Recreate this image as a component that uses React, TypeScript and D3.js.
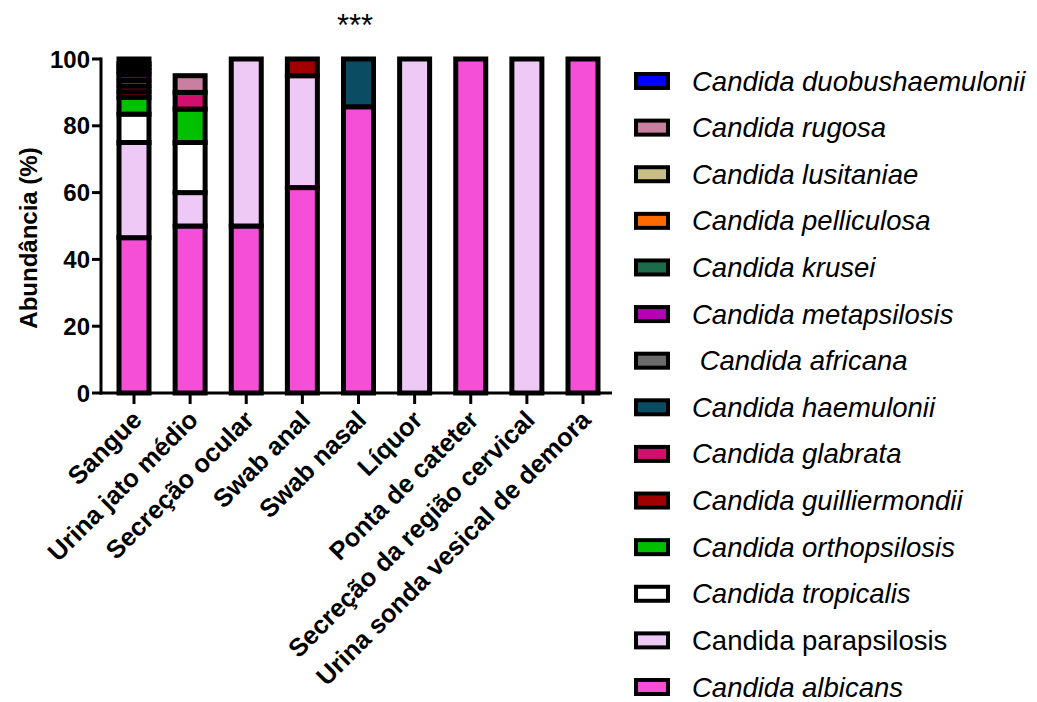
import React from "react";
import * as d3 from "d3";

const categories = [
  "Sangue",
  "Urina jato médio",
  "Secreção ocular",
  "Swab anal",
  "Swab nasal",
  "Líquor",
  "Ponta de cateter",
  "Secreção da região cervical",
  "Urina sonda vesical de demora",
];

// stacking order bottom -> top
const species = [
  "Candida albicans",
  "Candida parapsilosis",
  "Candida tropicalis",
  "Candida orthopsilosis",
  "Candida guilliermondii",
  "Candida glabrata",
  "Candida haemulonii",
  "Candida africana",
  "Candida metapsilosis",
  "Candida krusei",
  "Candida pelliculosa",
  "Candida lusitaniae",
  "Candida rugosa",
  "Candida duobushaemulonii",
];

const colors = [
  "#f44fd6",
  "#efc9f5",
  "#ffffff",
  "#00c000",
  "#a00000",
  "#d10f6c",
  "#0a4d63",
  "#6b6b6b",
  "#b400b4",
  "#1c6b4a",
  "#ff6a00",
  "#c9bf86",
  "#c97f9f",
  "#0000ff",
];

const legendLabels = [
  "Candida duobushaemulonii",
  "Candida rugosa",
  "Candida lusitaniae",
  "Candida pelliculosa",
  "Candida krusei",
  "Candida metapsilosis",
  " Candida africana",
  "Candida haemulonii",
  "Candida glabrata",
  "Candida guilliermondii",
  "Candida orthopsilosis",
  "Candida tropicalis",
  "Candida parapsilosis",
  "Candida albicans",
];
const uprightLabels = ["Candida parapsilosis"];

// values per species (same order as species), per category
const albicans = [46.5, 50, 50, 61.5, 85.7, 0, 100, 0, 100];
const parapsilosis = [28.5, 10, 50, 33.5, 0, 100, 0, 100, 0];
const tropicalis = [8.5, 15, 0, 0, 0, 0, 0, 0, 0];
const orthopsilosis = [5, 10, 0, 0, 0, 0, 0, 0, 0];
const guilliermondii = [1.7, 0, 0, 5, 0, 0, 0, 0, 0];
const glabrata = [1.7, 5, 0, 0, 0, 0, 0, 0, 0];
const haemulonii = [0, 0, 0, 0, 14.3, 0, 0, 0, 0];
const africana = [1.7, 0, 0, 0, 0, 0, 0, 0, 0];
const metapsilosis = [1.7, 0, 0, 0, 0, 0, 0, 0, 0];
const krusei = [1.1, 0, 0, 0, 0, 0, 0, 0, 0];
const pelliculosa = [1.1, 0, 0, 0, 0, 0, 0, 0, 0];
const lusitaniae = [1.1, 0, 0, 0, 0, 0, 0, 0, 0];
const rugosa = [0, 5, 0, 0, 0, 0, 0, 0, 0];
const duobushaemulonii = [1.4, 0, 0, 0, 0, 0, 0, 0, 0];

const seriesValues = [
  albicans,
  parapsilosis,
  tropicalis,
  orthopsilosis,
  guilliermondii,
  glabrata,
  haemulonii,
  africana,
  metapsilosis,
  krusei,
  pelliculosa,
  lusitaniae,
  rugosa,
  duobushaemulonii,
];

const yTicks = [0, 20, 40, 60, 80, 100];

export default function App() {
  const W = 1037;
  const H = 702;
  const axisX = 101;
  const x = d3.scalePoint<string>().domain(categories).range([134, 583]);
  const y = d3.scaleLinear().domain([0, 100]).range([393, 59]);
  const barW = 30;
  const sw = 5;

  const rows = categories.map((c, i) => {
    const r: any = { cat: c };
    species.forEach((s, j) => (r[s] = seriesValues[j][i]));
    return r;
  });
  const stacked = d3.stack<any>().keys(species)(rows);

  const legendY = d3
    .scalePoint<string>()
    .domain(legendLabels)
    .range([81, 687]);
  const legendColor = (lbl: string) => colors[species.indexOf(lbl.trim())];

  const font = "Arial, 'Liberation Sans', Helvetica, sans-serif";

  return (
    <svg
      width={W}
      height={H}
      style={{ position: "absolute", left: 0, top: 0, background: "#fff" }}
      fontFamily={font}
    >
      {/* bars */}
      {stacked.map((layer, j) =>
        layer.map((d, i) => {
          const v = d[1] - d[0];
          if (v <= 0) return null;
          const cx = x(categories[i])!;
          return (
            <rect
              key={`${j}-${i}`}
              x={cx - barW / 2}
              y={y(d[1])}
              width={barW}
              height={y(d[0]) - y(d[1])}
              fill={colors[j]}
              stroke="#000"
              strokeWidth={sw}
            />
          );
        })
      )}

      {/* y axis */}
      <line x1={axisX} x2={axisX} y1={57.5} y2={394.5} stroke="#000" strokeWidth={3} />
      {yTicks.map((t) => (
        <g key={t}>
          <line x1={axisX - 9} x2={axisX} y1={y(t)} y2={y(t)} stroke="#000" strokeWidth={3} />
          <text
            x={axisX - 11}
            y={y(t)}
            textAnchor="end"
            dominantBaseline="central"
            fontSize={24}
            fontWeight="bold"
          >
            {t}
          </text>
        </g>
      ))}
      <text
        transform={`translate(28, ${y(50) + 12}) rotate(-90)`}
        textAnchor="middle"
        dominantBaseline="central"
        fontSize={24}
        fontWeight="bold"
      >
        Abundância (%)
      </text>

      {/* x axis */}
      <line x1={axisX - 1.5} x2={612} y1={393} y2={393} stroke="#000" strokeWidth={3} />
      {categories.map((c) => (
        <g key={c}>
          <line x1={x(c)} x2={x(c)} y1={393} y2={404} stroke="#000" strokeWidth={3} />
          <text
            transform={`translate(${x(c)! + 3}, ${415}) rotate(-45)`}
            textAnchor="end"
            dominantBaseline="central"
            fontSize={25.5}
            fontWeight="bold"
          >
            {c}
          </text>
        </g>
      ))}

      <text x={355} y={36} textAnchor="middle" fontSize={31}>
        ***
      </text>

      {/* legend */}
      {legendLabels.map((l) => {
        const cy = legendY(l)!;
        return (
          <g key={l}>
            <rect
              x={636}
              y={cy - 7}
              width={32}
              height={14}
              fill={legendColor(l)}
              stroke="#000"
              strokeWidth={4}
            />
            <text
              x={692}
              y={cy}
              dominantBaseline="central"
              fontSize={27.5}
              fontStyle={uprightLabels.includes(l) ? "normal" : "italic"}
              style={{ whiteSpace: "pre" }}
            >
              {l}
            </text>
          </g>
        );
      })}
    </svg>
  );
}
